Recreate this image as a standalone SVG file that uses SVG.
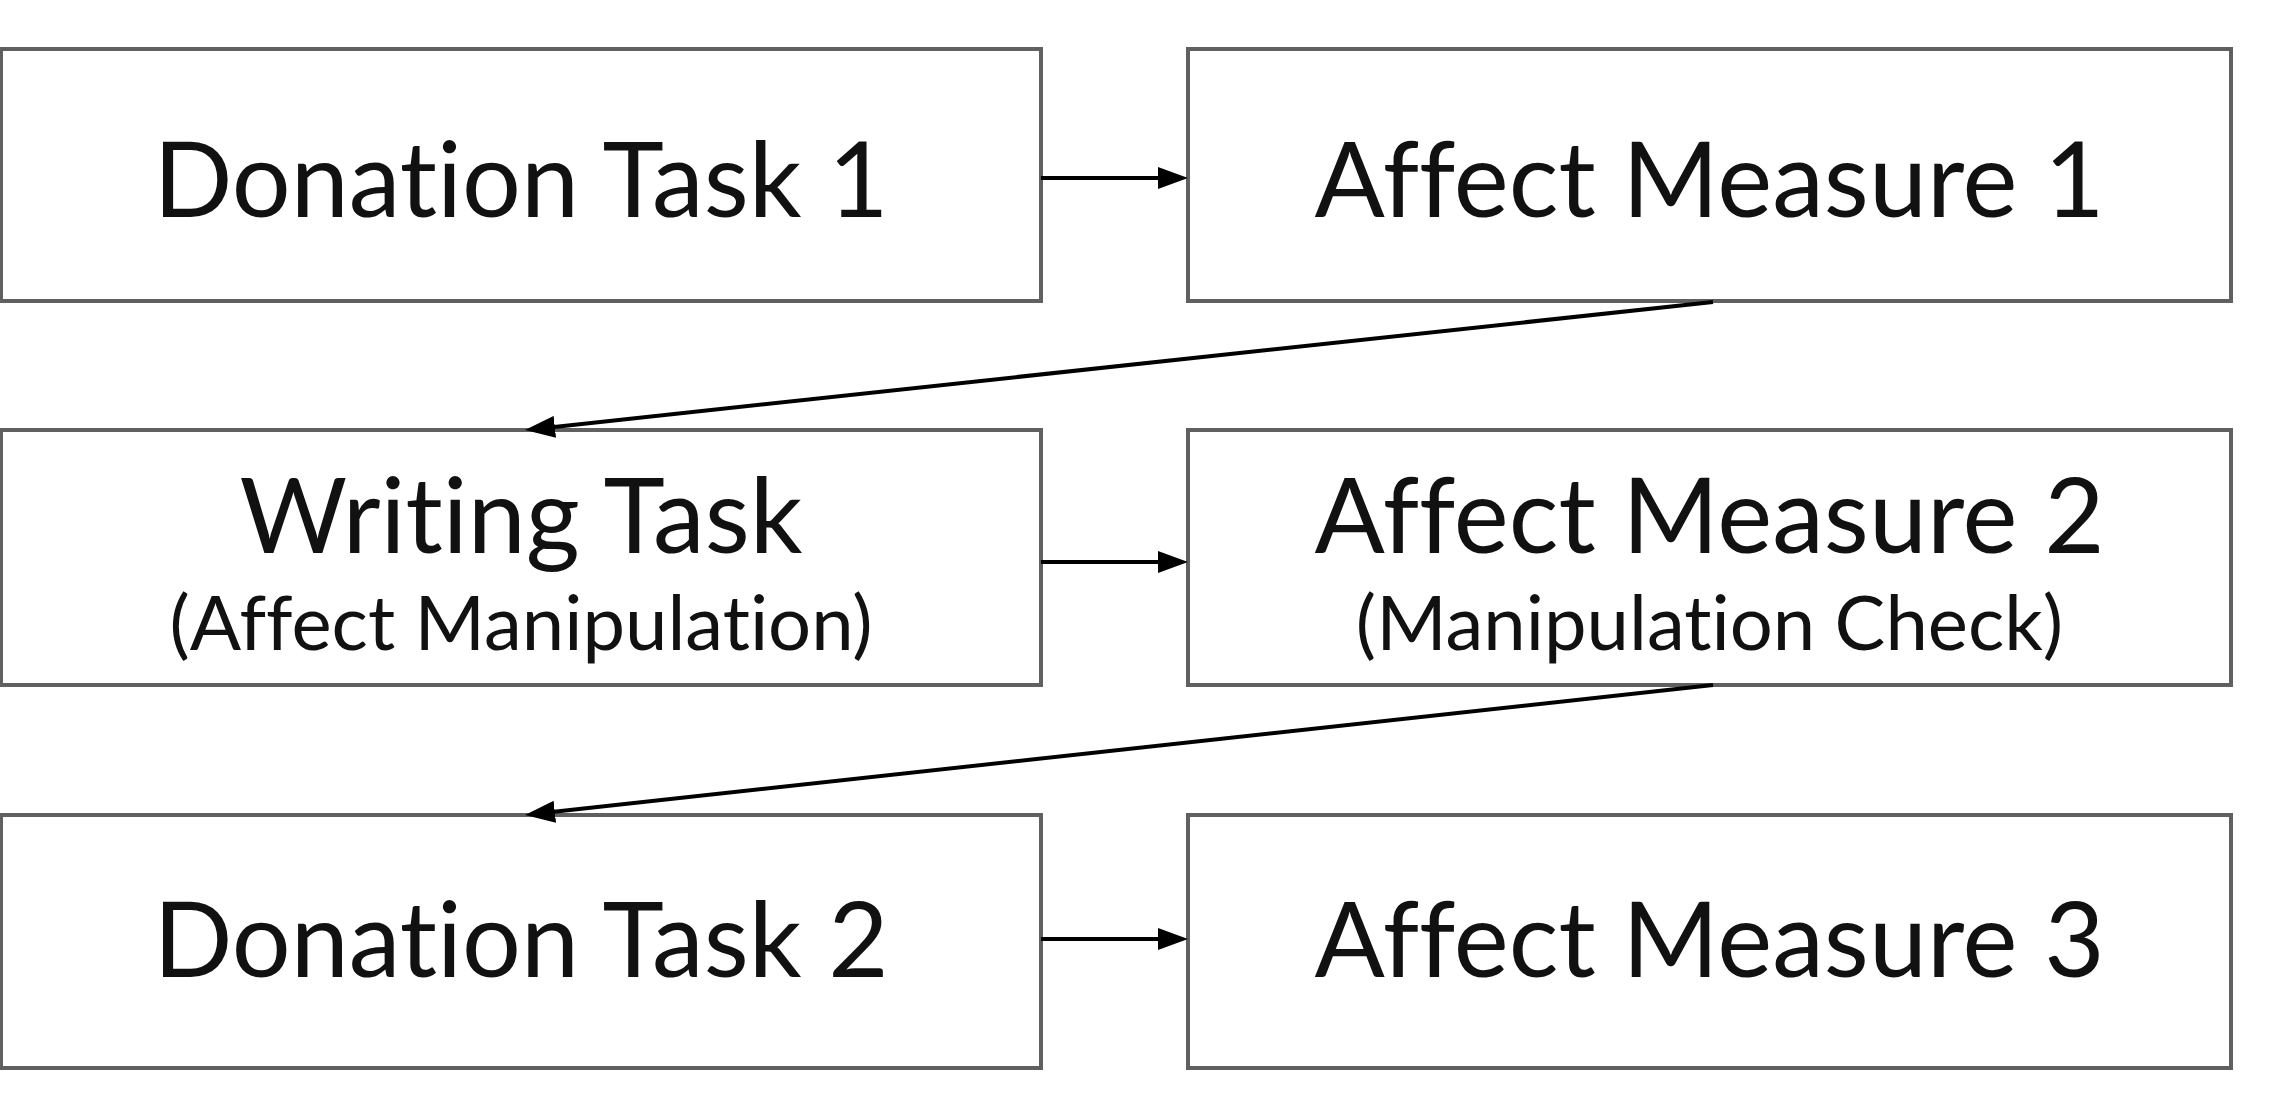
<svg xmlns="http://www.w3.org/2000/svg" width="2281" height="1107" viewBox="0 0 2281 1107">
<style>
.box{fill:#ffffff;stroke:#606060;stroke-width:4}
.main{font-family:Lato,"Liberation Sans",sans-serif;font-size:104px;fill:#111111;text-anchor:middle;font-variant-ligatures:none;font-feature-settings:"liga" 0}
.sub{font-family:Lato,"Liberation Sans",sans-serif;font-size:76px;fill:#111111;text-anchor:middle;font-variant-ligatures:none;font-feature-settings:"liga" 0}
.conn{stroke:#000000;stroke-width:4;fill:none}
</style>
<defs>
<marker id="ah" viewBox="0 0 30 22" refX="10" refY="11" markerWidth="30" markerHeight="22" markerUnits="userSpaceOnUse" orient="auto">
<path d="M0,0 L30,11 L0,22 z" fill="#000000"/>
</marker>
</defs>
<rect width="2281" height="1107" fill="#ffffff"/>
<g id="donation1"><rect class="box" x="1" y="49" width="1040" height="252"/><text class="main" x="521" y="217">Donation Task 1</text></g>
<g id="affect1"><rect class="box" x="1188" y="49" width="1043" height="252"/><text class="main" x="1709.5" y="217">Affect Measure 1</text></g>
<g id="writing"><rect class="box" x="1" y="430" width="1040" height="255"/><text class="main" x="521" y="553">Writing Task</text><text class="sub" x="521" y="650">(Affect Manipulation)</text></g>
<g id="affect2"><rect class="box" x="1188" y="430" width="1043" height="255"/><text class="main" x="1709.5" y="553">Affect Measure 2</text><text class="sub" x="1709.5" y="650">(Manipulation Check)</text></g>
<g id="donation2"><rect class="box" x="1" y="815" width="1040" height="253"/><text class="main" x="521" y="977">Donation Task 2</text></g>
<g id="affect3"><rect class="box" x="1188" y="815" width="1043" height="253"/><text class="main" x="1709.5" y="977">Affect Measure 3</text></g>
<g id="connectors">
<line class="conn" x1="1041" y1="178" x2="1168" y2="178" marker-end="url(#ah)"/>
<line class="conn" x1="1041" y1="562" x2="1168" y2="562" marker-end="url(#ah)"/>
<line class="conn" x1="1041" y1="939" x2="1168" y2="939" marker-end="url(#ah)"/>
<line class="conn" x1="1713" y1="302" x2="544.9" y2="427.9" marker-end="url(#ah)"/>
<line class="conn" x1="1713" y1="685" x2="544.9" y2="812.8" marker-end="url(#ah)"/>
</g>
</svg>
